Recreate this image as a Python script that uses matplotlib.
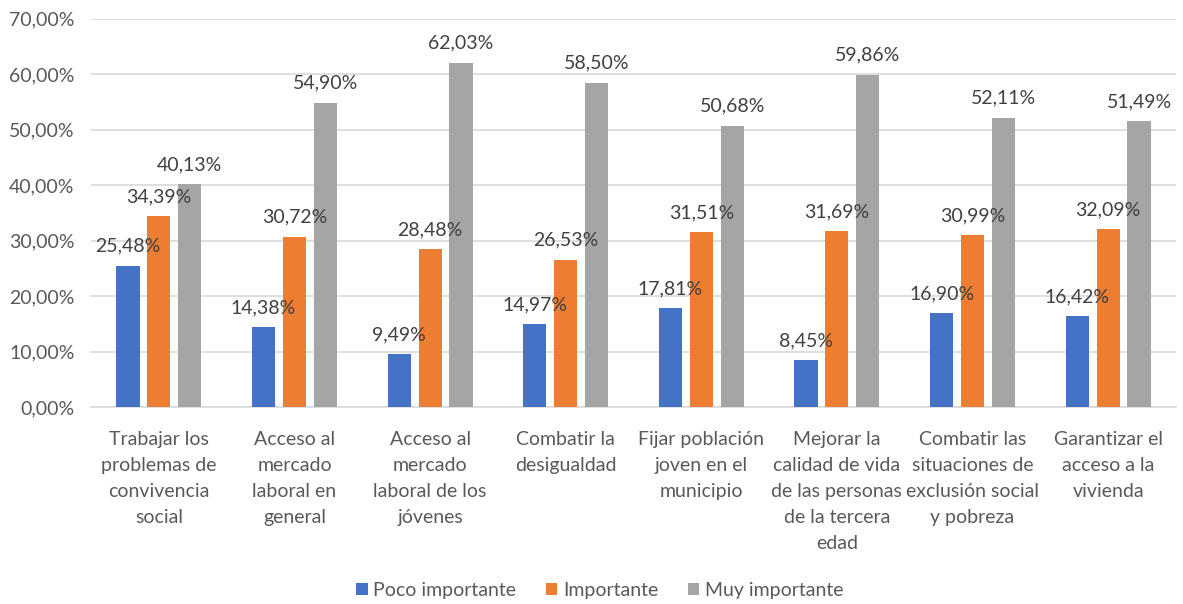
import numpy as np
import matplotlib.pyplot as plt
from matplotlib.ticker import FuncFormatter

plt.rcParams['font.family'] = ['Lato', 'DejaVu Sans']

# Datos
categorias = [
    "Trabajar los\nproblemas de\nconvivencia\nsocial",
    "Acceso al\nmercado\nlaboral en\ngeneral",
    "Acceso al\nmercado\nlaboral de los\njóvenes",
    "Combatir la\ndesigualdad",
    "Fijar población\njoven en el\nmunicipio",
    "Mejorar la\ncalidad de vida\nde las personas\nde la tercera\nedad",
    "Combatir las\nsituaciones de\nexclusión social\ny pobreza",
    "Garantizar el\nacceso a la\nvivienda",
]
poco_importante = [25.48, 14.38, 9.49, 14.97, 17.81, 8.45, 16.90, 16.42]
importante = [34.39, 30.72, 28.48, 26.53, 31.51, 31.69, 30.99, 32.09]
muy_importante = [40.13, 54.90, 62.03, 58.50, 50.68, 59.86, 52.11, 51.49]
series = ["Poco importante", "Importante", "Muy importante"]
colores = ["#4472C4", "#ED7D31", "#A5A5A5"]

fig = plt.figure(figsize=(11.83, 6.04), dpi=100)
ax = fig.add_axes([0.077, 0.326, 0.917, 0.643])

x = np.arange(len(categorias))
ancho = 0.17
paso = 0.228
fs = 14

def fmt(v):
    return f"{v:.2f}".replace(".", ",") + "%"

for i, (nombre, valores, color) in enumerate(zip(series, [poco_importante, importante, muy_importante], colores)):
    pos = x + (i - 1) * paso
    barras = ax.bar(pos, valores, ancho, color=color, label=nombre, zorder=3)
    for b, v in zip(barras, valores):
        ax.annotate(fmt(v), (b.get_x() + b.get_width() / 2, v),
                    xytext=(0, 8), textcoords="offset points",
                    ha="center", va="bottom", fontsize=fs, color="#404040", zorder=4)

ax.set_ylim(0, 70)
ax.set_xlim(-0.5, len(categorias) - 0.5)
ax.set_yticks(np.arange(0, 71, 10))
ax.yaxis.set_major_formatter(FuncFormatter(lambda v, p: fmt(v)))
ax.set_xticks(x)
ax.set_xticklabels(categorias, fontsize=fs, color="#595959", linespacing=1.65)
ax.tick_params(axis="y", labelsize=fs, labelcolor="#595959", length=0, pad=12)
ax.tick_params(axis="x", length=0, pad=17)
ax.grid(axis="y", color="#D9D9D9", linewidth=1.2, zorder=0)
for s in ["top", "right", "left"]:
    ax.spines[s].set_visible(False)
ax.spines["bottom"].set_color("#D9D9D9")
ax.spines["bottom"].set_linewidth(1.2)

fig.legend(loc="lower center", bbox_to_anchor=(0.507, -0.02), ncol=3, frameon=False,
           fontsize=fs, labelcolor="#595959", handlelength=0.6, handleheight=0.6,
           handletextpad=0.3, columnspacing=1.5)

fig.savefig("out.png", dpi=100)
